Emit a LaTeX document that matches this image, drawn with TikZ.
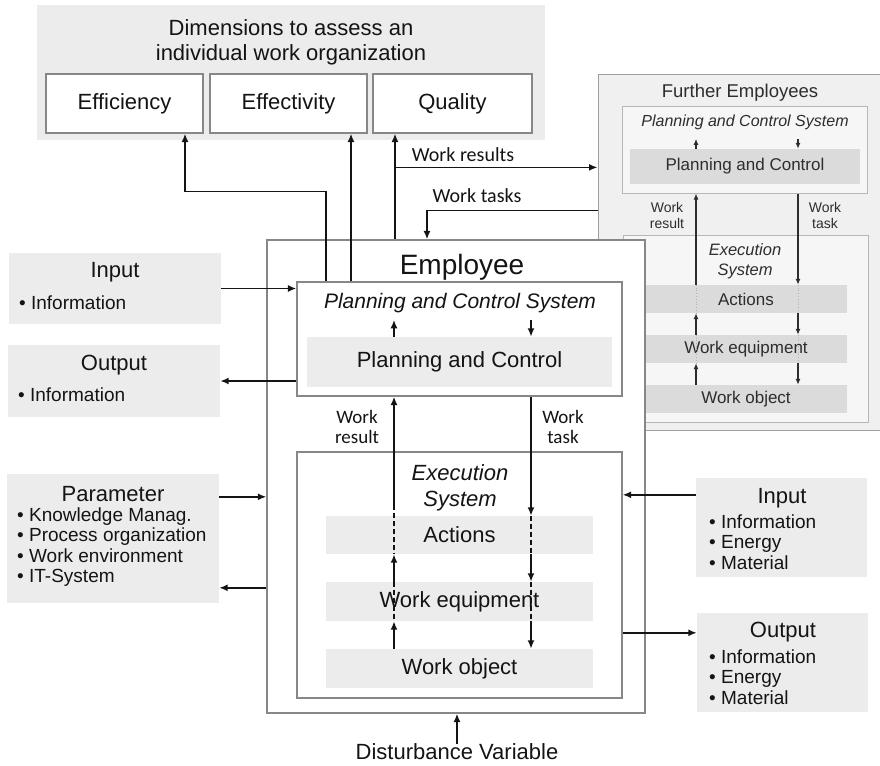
\documentclass[tikz,border=0pt]{standalone}
\usepackage{fontspec}
\setmainfont{Liberation Sans}
\newfontfamily\lblfont{Carlito}
\usetikzlibrary{arrows.meta}

\definecolor{boxgray}{RGB}{236,236,236}
\definecolor{febg}{RGB}{240,240,240}
\definecolor{feinnergray}{RGB}{219,219,219}
\definecolor{linegray}{RGB}{135,135,135}
\definecolor{inktext}{RGB}{20,20,20}
\definecolor{fetextcol}{RGB}{45,45,45}

\tikzset{
  graybox/.style={fill=boxgray, inner sep=0pt, text=inktext, font=\fontsize{22}{26}\selectfont},
  framebox/.style={draw=linegray, line width=1.2pt, fill=white, inner sep=0pt, text=inktext, font=\fontsize{22}{26}\selectfont},
  maintext/.style={inner sep=0pt, text=inktext, font=\fontsize{22}{26}\selectfont},
  italtext/.style={inner sep=0pt, text=inktext, font=\fontsize{21}{27}\selectfont\itshape},
  listtext/.style={inner sep=0pt, text=inktext, align=left, font=\fontsize{19}{20.4}\selectfont},
  lbltext/.style={inner sep=0pt, text=inktext, align=center, font=\lblfont\fontsize{19}{20}\selectfont},
  febox/.style={draw=linegray!80, line width=1pt, fill=febg, inner sep=0pt},
  feframe/.style={draw=linegray!60, line width=1pt, fill=febg!60, inner sep=0pt},
  feinner/.style={fill=feinnergray, inner sep=0pt, text=fetextcol, font=\fontsize{17}{20}\selectfont},
  fetext/.style={inner sep=0pt, text=fetextcol, font=\fontsize{17}{20}\selectfont},
  fesmall/.style={inner sep=0pt, text=fetextcol, align=center, font=\fontsize{14}{16}\selectfont},
  arr/.style={-{Latex[length=8.5pt,width=7pt]}, line width=1.7pt, draw=inktext},
  dashline/.style={line width=1.7pt, draw=inktext, dash pattern=on 5pt off 3pt},
  fearr/.style={-{Latex[length=6pt,width=5pt]}, line width=1.2pt, draw=fetextcol},
  fedot/.style={line width=0.8pt, draw=gray!60, dotted}
}

\begin{document}
\begin{tikzpicture}[x=1pt,y=-1pt]
  \useasboundingbox (0,0) rectangle (880,765);

  % Dimensions to assess
  \node[graybox, minimum width=508pt, minimum height=135pt] (dims) at (291,72.5) {};
  \node[maintext, align=center, font=\fontsize{22}{25}\selectfont] (dimstitle) at (291,42) {Dimensions to assess an\\individual work organization};
  \node[framebox, minimum width=157pt, minimum height=59pt] (eff) at (124.5,103.5) {Efficiency};
  \node[framebox, minimum width=157pt, minimum height=59pt] (efv) at (288.5,103.5) {Effectivity};
  \node[framebox, minimum width=159pt, minimum height=59pt] (qual) at (452.5,103.5) {Quality};

  % Further employees
  \node[febox, minimum width=284pt, minimum height=355pt] (fe) at (740,252.5) {};
  \node[fetext, font=\fontsize{18.5}{22}\selectfont] (fetitle) at (740,93) {Further Employees};
  \node[feframe, minimum width=245pt, minimum height=86pt] (fepcs) at (744.5,150) {};
  \node[fetext, font=\fontsize{16}{19}\selectfont\itshape] (fepcstitle) at (745,122) {Planning and Control System};
  \node[feinner, minimum width=230pt, minimum height=35pt] (fepc) at (745,166.5) {Planning and Control};
  \node[feframe, minimum width=245pt, minimum height=187pt] (feexe) at (745.5,328.5) {};
  \node[fetext, align=center, font=\fontsize{16.5}{20}\selectfont\itshape] (feexetitle) at (745,261) {Execution\\System};
  \node[feinner, minimum width=202pt, minimum height=28pt] (feact) at (746,299) {Actions};
  \node[feinner, minimum width=202pt, minimum height=28pt] (feequ) at (746,349) {Work equipment};
  \node[feinner, minimum width=202pt, minimum height=28pt] (feobj) at (746,399) {Work object};
  \node[fesmall] (feres) at (667,215) {Work\\result};
  \node[fesmall] (fetask) at (825,215) {Work\\task};

  \draw[fearr] ([xshift=-49pt]fepc.north) -- ++(0,-10);
  \draw[fearr] ([xshift=53pt,yshift=10pt]fepc.north) -- ([xshift=53pt]fepc.north);
  \foreach \b in {feact,feequ} {
    \draw[fedot] ([xshift=-50pt]\b.north) -- ([xshift=-50pt]\b.south);
    \draw[fedot] ([xshift=52pt]\b.north) -- ([xshift=52pt]\b.south);
  }
  \draw[fearr] ([xshift=-50pt]feact.north) -- ([xshift=-50pt]feact.north |- fepcs.south);
  \draw[fearr] ([xshift=-50pt]feequ.north) -- ([xshift=-50pt]feact.south);
  \draw[fearr] ([xshift=-50pt]feobj.north) -- ([xshift=-50pt]feequ.south);
  \draw[fearr] ([xshift=52pt]feact.north |- fepcs.south) -- ([xshift=52pt]feact.north);
  \draw[fearr] ([xshift=52pt]feact.south) -- ([xshift=52pt]feequ.north);
  \draw[fearr] ([xshift=52pt]feequ.south) -- ([xshift=52pt]feobj.north);

  % Employee
  \node[framebox, minimum width=378pt, minimum height=473pt] (emp) at (456,476.5) {};
  \node[maintext, font=\fontsize{28}{32}\selectfont] (emptitle) at (462,267) {Employee};
  \node[framebox, minimum width=325pt, minimum height=114pt] (pcs) at (459.5,339) {};
  \node[italtext] (pcstitle) at (460,303) {Planning and Control System};
  \node[graybox, minimum width=305pt, minimum height=50pt] (pc) at (459.5,362) {Planning and Control};
  \node[framebox, minimum width=325pt, minimum height=246pt] (exe) at (459.5,575) {};
  \node[italtext, align=center, font=\fontsize{22}{26}\selectfont\itshape] (exetitle) at (460,488) {Execution\\System};
  \node[graybox, minimum width=267pt, minimum height=38pt] (act) at (459.5,535) {Actions};
  \node[graybox, minimum width=267pt, minimum height=39pt] (equ) at (459.5,601.5) {Work equipment};
  \node[graybox, minimum width=267pt, minimum height=39pt] (obj) at (459.5,668.5) {Work object};
  \node[lbltext] (res) at (357,427) {Work\\result};
  \node[lbltext] (task) at (563,427) {Work\\task};
  \node[maintext] (dist) at (457,752) {Disturbance Variable};

  % Work result / work task
  \draw[arr] ([xshift=-65.5pt]pc.north) -- ++(0,-17);
  \draw[arr] ([xshift=71.5pt,yshift=17pt]pc.north) -- ([xshift=71.5pt]pc.north);
  \draw[arr] ([xshift=-65.5pt,yshift=11pt]act.north) -- ([xshift=-65.5pt]act.north |- pcs.south);
  \draw[dashline] ([xshift=-65.5pt,yshift=11pt]act.north) -- ([xshift=-65.5pt]act.south);
  \draw[dashline] ([xshift=-65.5pt]equ.north) -- ([xshift=-65.5pt]equ.south);
  \draw[arr] ([xshift=-65.5pt]equ.north) -- ([xshift=-65.5pt]act.south);
  \draw[arr] ([xshift=-65.5pt]obj.north) -- ([xshift=-65.5pt]equ.south);
  \draw[arr] ([xshift=71.5pt]pcs.south) -- ([xshift=71.5pt]act.north);
  \foreach \b in {act,equ}
    \draw[dashline] ([xshift=71.5pt]\b.north) -- ([xshift=71.5pt]\b.south);
  \draw[arr] ([xshift=71.5pt]act.south) -- ([xshift=71.5pt]equ.north);
  \draw[arr] ([xshift=71.5pt]equ.south) -- ([xshift=71.5pt]obj.north);
  \draw[arr] (dist.north) -- (dist.north |- emp.south);

  % Connections to dimensions and further employees
  \draw[arr] ([xshift=-133.5pt]pcs.north) |- ([xshift=60.5pt,yshift=-58pt]eff.south) -- ([xshift=60.5pt]eff.south);
  \draw[arr] ([xshift=-108.5pt]pcs.north) -- ([xshift=-108.5pt]pcs.north |- efv.south);
  \draw[arr] ([xshift=-61pt]emp.north) -- ([xshift=-61pt]emp.north |- qual.south);
  \coordinate (wrs) at ([xshift=-61pt,yshift=72pt]emp.north);
  \draw[arr] (wrs) -- (wrs -| fe.west);
  \node[lbltext, font=\lblfont\fontsize{20}{22}\selectfont] (wrlbl) at (463,155) {Work results};
  \draw[arr] ([yshift=-136pt]fe.north west) -| ([xshift=-29pt]emp.north);
  \node[lbltext, font=\lblfont\fontsize{20}{22}\selectfont] (wtlbl) at (477,196) {Work tasks};

  % Left side
  \node[graybox, minimum width=212pt, minimum height=71pt] (inL) at (115,288.5) {};
  \node[maintext] (inLt) at (115,272) {Input};
  \node[listtext, anchor=west] (inLi) at (19,303) {• Information};
  \draw[arr] (inL.east) -- (inL.east -| pcs.west);
  \node[graybox, minimum width=212pt, minimum height=72pt] (outL) at (114,381) {};
  \node[maintext] (outLt) at (114,365) {Output};
  \node[listtext, anchor=west] (outLi) at (18,395) {• Information};
  \draw[arr] (outL.east -| pcs.west) -- (outL.east);
  \node[graybox, minimum width=212pt, minimum height=129pt] (par) at (113,538.5) {};
  \node[maintext] (part) at (113,494) {Parameter};
  \node[listtext, anchor=west] (pari) at (17,547) {• Knowledge Manag.\\• Process organization\\• Work environment\\• IT-System};
  \coordinate (pin) at ([yshift=-23pt]par.north east);
  \coordinate (pout) at ([yshift=-114pt]par.north east);
  \draw[arr] (pin) -- (pin -| emp.west);
  \draw[arr] (pout -| emp.west) -- (pout);

  % Right side
  \node[graybox, minimum width=171pt, minimum height=99pt] (inR) at (781.5,527.5) {};
  \node[maintext] (inRt) at (782,498) {Input};
  \node[listtext, anchor=west] (inRi) at (709,542) {• Information\\• Energy\\• Material};
  \coordinate (rin) at ([yshift=-17pt]inR.north west);
  \draw[arr] (rin) -- (rin -| exe.east);
  \node[graybox, minimum width=171pt, minimum height=99pt] (outR) at (782.5,662.5) {};
  \node[maintext] (outRt) at (783,632) {Output};
  \node[listtext, anchor=west] (outRi) at (709,677) {• Information\\• Energy\\• Material};
  \coordinate (rout) at ([yshift=-20pt]outR.north west);
  \draw[arr] (rout -| exe.east) -- (rout);
\end{tikzpicture}
\end{document}
